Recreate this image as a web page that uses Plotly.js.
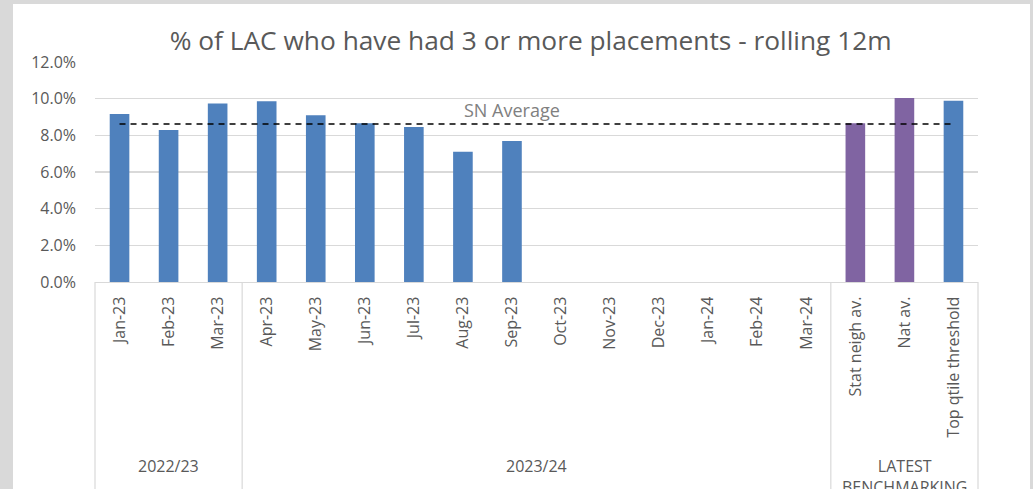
<!DOCTYPE html>
<html>
<head>
<meta charset="utf-8">
<script src="https://cdn.plot.ly/plotly-3.0.1.min.js"></script>
<style>
  html, body { margin: 0; padding: 0; background: #d9d9d9; overflow: hidden; width: 1033px; height: 489px; }
  #chart { position: absolute; left: 13px; top: 4px; width: 1017px; height: 520px; }
</style>
</head>
<body>
<div id="chart"></div>
<script>
// ---- data ----
const categories = ["Jan-23","Feb-23","Mar-23","Apr-23","May-23","Jun-23","Jul-23","Aug-23","Sep-23",
                    "Oct-23","Nov-23","Dec-23","Jan-24","Feb-24","Mar-24",
                    "Stat neigh av.","Nat av.","Top qtile threshold"];
const monthCats = ["Jan-23","Feb-23","Mar-23","Apr-23","May-23","Jun-23","Jul-23","Aug-23","Sep-23",
                   "Oct-23","Nov-23","Dec-23","Jan-24","Feb-24","Mar-24"];
const monthValues = [9.16, 8.29, 9.73, 9.86, 9.10, 8.66, 8.46, 7.10, 7.69,
                     null, null, null, null, null, null];
const benchCats = ["Stat neigh av.","Nat av."];
const benchValues = [8.66, 10.04];
const thresholdCats = ["Top qtile threshold"];
const thresholdValues = [9.89];
const snAverage = 8.62;
const groups = [
  {label: "2022/23", first: 0, last: 2},
  {label: "2023/24", first: 3, last: 14},
  {label: "LATEST<br>BENCHMARKING", first: 15, last: 17}
];

const BLUE = "#4f81bd", PURPLE = "#8064a2", TXT = "#595959", GRID = "#d9d9d9";
const FONT = "Open Sans";

const traces = [
  {type: "bar", x: monthCats, y: monthValues, width: 0.4, marker: {color: BLUE}, hoverinfo: "x+y"},
  {type: "bar", x: benchCats, y: benchValues, width: 0.4, marker: {color: PURPLE}, hoverinfo: "x+y"},
  {type: "bar", x: thresholdCats, y: thresholdValues, width: 0.4, marker: {color: BLUE}, hoverinfo: "x+y"},
  {type: "scatter", mode: "lines", x: [categories[0], categories[categories.length - 1]], y: [snAverage, snAverage],
   line: {color: "#000000", width: 1.6, dash: "6px,5px"}, hoverinfo: "y"}
];

const n = categories.length;
const shapes = [];
const dividerIdx = [0, 3, 15, 18];
dividerIdx.forEach(i => {
  shapes.push({type: "line", xref: "paper", yref: "paper", x0: i / n, x1: i / n, y0: 0, y1: -2,
               line: {color: GRID, width: 1.2}});
});

const annotations = [
  {xref: "x", yref: "y", x: "Sep-23", y: snAverage, yshift: 14, text: "SN Average", showarrow: false,
   font: {family: FONT, size: 18, color: "#808080"}}
];
groups.forEach(g => {
  annotations.push({xref: "x", yref: "paper", x: (g.first + g.last) / 2, y: 0, yanchor: "top",
    yshift: -171, text: g.label, showarrow: false,
    font: {family: FONT, size: 16, color: TXT}});
});

const layout = {
  width: 1017, height: 520,
  paper_bgcolor: "#ffffff", plot_bgcolor: "#ffffff",
  margin: {l: 82, r: 52, t: 58, b: 242},
  showlegend: false,
  barmode: "overlay",
  font: {family: FONT, color: TXT},
  title: {text: "% of LAC who have had 3 or more placements - rolling 12m",
          font: {family: FONT, size: 26.3, color: TXT},
          x: 0.509, xanchor: "center", xref: "container",
          y: 0.929, yanchor: "middle", yref: "container"},
  xaxis: {type: "category", categoryorder: "array", categoryarray: categories,
          range: [-0.5, n - 0.5], tickangle: -90, showgrid: false, zeroline: false,
          showline: true, linecolor: GRID, linewidth: 1.2, ticks: "", ticklabelstandoff: 7,
          tickfont: {family: FONT, size: 16, color: TXT}, fixedrange: true},
  yaxis: {range: [0, 12], dtick: 2, tick0: 0, tickformat: ".1f", ticksuffix: "%",
          showgrid: true, gridcolor: GRID, gridwidth: 1.2, zeroline: false, showline: false,
          ticks: "", ticklabelstandoff: 18, tickfont: {family: FONT, size: 16, color: TXT}, fixedrange: true},
  shapes: shapes,
  annotations: annotations
};

Plotly.newPlot("chart", traces, layout, {displayModeBar: false, staticPlot: true});
</script>
</body>
</html>
